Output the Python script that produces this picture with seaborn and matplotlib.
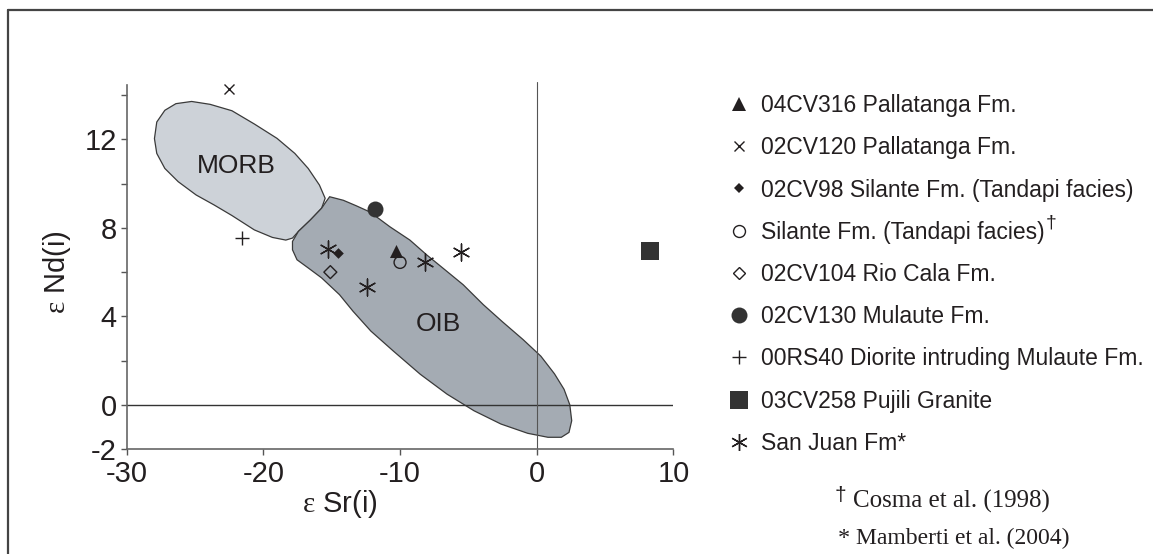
import matplotlib
matplotlib.use("Agg")
import matplotlib.pyplot as plt
import seaborn as sns
from matplotlib.patches import Polygon
from matplotlib.lines import Line2D

# datos (eps Sr(i), eps Nd(i))
sample_labels = [
    "04CV316 Pallatanga Fm.",
    "02CV120 Pallatanga Fm.",
    "02CV98 Silante Fm. (Tandapi facies)",
    "Silante Fm. (Tandapi facies)",
    "02CV104 Rio Cala Fm.",
    "02CV130 Mulaute Fm.",
    "00RS40 Diorite intruding Mulaute Fm.",
    "03CV258 Pujili Granite",
    "San Juan Fm*",
]
sample_sr = [[-10.3], [-22.5], [-14.55], [-10.0], [-15.1], [-11.8], [-21.55], [8.3],
             [-15.3, -12.4, -8.2, -5.55]]
sample_nd = [[6.95], [14.3], [6.87], [6.44], [6.0], [8.87], [7.55], [6.95],
             [7.05, 5.31, 6.44, 6.92]]

# contornos de los campos MORB y OIB
morb_sr = [-26.4, -25.25, -23.9, -22.3, -20.66, -19.0, -17.7, -16.72, -15.9, -15.48,
           -15.74, -16.56, -17.44, -17.87, -18.36, -19.34, -20.66, -22.3, -23.61,
           -24.92, -26.23, -27.21, -27.8, -27.97, -27.8, -27.21]
morb_nd = [13.62, 13.72, 13.59, 13.3, 12.7, 12.05, 11.37, 10.69, 9.94, 9.34,
           8.89, 8.36, 7.84, 7.54, 7.45, 7.57, 7.91, 8.56, 9.04,
           9.49, 10.09, 10.69, 11.37, 12.04, 12.79, 13.32]
oib_sr = [-15.15, -14.15, -13.2, -12.2, -10.74, -9.28, -8.05, -6.84, -5.38, -3.91,
          -2.5, -1.0, 0.3, 1.3, 2.0, 2.42, 2.56, 2.36, 1.8, 0.82, -0.66, -2.62,
          -4.59, -6.56, -8.52, -10.49, -12.13, -13.44, -14.43, -15.74, -16.72,
          -17.54, -17.87, -17.87, -17.44, -16.56, -15.74, -15.41]
oib_nd = [9.41, 9.25, 9.0, 8.72, 8.05, 7.45, 6.78, 6.17, 5.43, 4.53,
          3.75, 2.95, 2.2, 1.4, 0.7, 0.0, -0.72, -1.25, -1.47, -1.47, -1.29, -0.87,
          -0.27, 0.48, 1.38, 2.43, 3.33, 4.23, 4.98, 5.74, 6.19,
          6.56, 7.01, 7.39, 7.84, 8.36, 8.89, 9.19]

x_ticks = [-30, -20, -10, 0, 10]
y_ticks = [-2, 0, 2, 4, 6, 8, 10, 12, 14]
y_tick_labels = ["-2", "0", "", "4", "", "8", "", "12", ""]

ink = "#231f20"
# estilo de cada muestra: marcador, tamano (pt), relleno
estilos = [
    dict(marker="^", size=9.4, face=ink),
    dict(marker="x", size=7.2, face=None),
    dict(marker="D", size=5.4, face=ink),
    dict(marker="o", size=8.6, face="none"),
    dict(marker="D", size=6.6, face="none"),
    dict(marker="o", size=11.5, face="#333333"),
    dict(marker="+", size=10, face=None),
    dict(marker="s", size=12.8, face="#333333"),
    dict(marker=(6, 2, 0), size=12.2, face=None),
]

sns.set_style("ticks")
plt.rcParams["font.family"] = ["Liberation Sans", "DejaVu Sans"]
plt.rcParams["mathtext.fontset"] = "custom"
plt.rcParams["mathtext.rm"] = "Liberation Serif"
plt.rcParams["mathtext.it"] = "Liberation Serif:italic"

W, H = 1153, 554
fig = plt.figure(figsize=(W / 100, H / 100), dpi=100)
ax = fig.add_axes([126.7 / W, 1 - 449 / H, 546.7 / W, 367 / H])

ax.add_patch(Polygon(list(zip(morb_sr, morb_nd)), closed=True, facecolor="#cdd2d8",
                     edgecolor="#3a3a3a", linewidth=0.9, zorder=1))
ax.add_patch(Polygon(list(zip(oib_sr, oib_nd)), closed=True, facecolor="#a4abb3",
                     edgecolor="#3a3a3a", linewidth=0.9, zorder=1.1))
ax.axhline(0, color="#333333", linewidth=1.0, zorder=2)
ax.axvline(0, color="#555555", linewidth=0.8, zorder=2)

handles = []
for lab, xs, ys, st in zip(sample_labels, sample_sr, sample_nd, estilos):
    kws = dict(marker=st["marker"], s=st["size"] ** 2, color=ink, zorder=3)
    if st["face"] is None:
        kws["linewidth"] = 1.0
    else:
        kws["facecolor"] = st["face"]
        kws["edgecolor"] = ink if st["face"] == "none" else st["face"]
        kws["linewidth"] = 1.0 if st["face"] == "none" else 0
    sns.scatterplot(x=xs, y=ys, ax=ax, legend=False, **kws)
    if st["face"] is None:
        h = Line2D([], [], linestyle="none", marker=st["marker"], markersize=st["size"],
                   color=ink, markeredgewidth=1.0)
    else:
        h = Line2D([], [], linestyle="none", marker=st["marker"], markersize=st["size"],
                   markerfacecolor=st["face"], markeredgecolor=kws["edgecolor"],
                   markeredgewidth=kws["linewidth"])
    handles.append(h)

ax.text(-22.0, 10.8, "MORB", fontsize=19, ha="center", va="center", color=ink, zorder=4)
ax.text(-7.2, 3.66, "OIB", fontsize=19, ha="center", va="center", color=ink, zorder=4)

ax.set_xlim(-30, 10)
ax.set_ylim(-2, 14.6)
ax.set_xticks(x_ticks)
ax.set_xticklabels([str(t) for t in x_ticks])
ax.set_yticks(y_ticks)
ax.set_yticklabels(y_tick_labels)
ax.tick_params(axis="both", direction="out", length=4, width=1, color="#555555",
               labelsize=21, labelcolor=ink)
ax.tick_params(axis="x", pad=4)
ax.tick_params(axis="y", pad=3)
sns.despine(ax=ax)
for s in ["left", "bottom"]:
    ax.spines[s].set_color("#666666")
    ax.spines[s].set_linewidth(1.2)
ax.spines["left"].set_bounds(-2, 14.45)

ax.set_xlabel("$\\mathrm{ε}$ Sr(i)", fontsize=21, color=ink)
ax.xaxis.set_label_coords(0.39, -0.15)
ax.xaxis.label.set_va("center")
ax.set_ylabel("$\\mathrm{ε}$ Nd(i)", fontsize=21, color=ink)
ax.yaxis.set_label_coords(-0.127, 0.482)
ax.yaxis.label.set_va("center")

leg = fig.legend(handles, sample_labels, loc="upper left",
                 bbox_to_anchor=(728 / W, 1 - 94 / H), frameon=False, fontsize=16.5,
                 handlelength=1.0, handletextpad=0.45, labelspacing=0.84,
                 borderpad=0, borderaxespad=0, labelcolor=ink)

# cruz (†) volada tras la etiqueta de Cosma et al.
fig.canvas.draw()
bb = leg.get_texts()[3].get_window_extent()
yc = (bb.y0 + bb.y1) / 2
fig.text((bb.x1 + 1) / W, (yc + 9) / H, "\u2020", fontsize=14, color=ink,
         va="center", ha="left")

# notas al pie
fig.text(835 / W, 1 - 496 / H, "\u2020", fontsize=15, color=ink, va="center", ha="left")
fig.text(853 / W, 1 - 501 / H, "Cosma et al. (1998)", fontsize=18, color=ink,
         va="center", ha="left", family="Liberation Serif")
fig.text(838 / W, 1 - 538 / H, "*", fontsize=17.5, color=ink,
         va="center", ha="left", family="Liberation Serif")
fig.text(856 / W, 1 - 538 / H, "Mamberti et al. (2004)", fontsize=17, color=ink,
         va="center", ha="left", family="Liberation Serif")

# marco recortado (solo arriba e izquierda)
fig.add_artist(Line2D([8 / W, 1], [1 - 10 / H, 1 - 10 / H], transform=fig.transFigure,
                      color="#444444", linewidth=1.6))
fig.add_artist(Line2D([8 / W, 8 / W], [0, 1 - 10 / H], transform=fig.transFigure,
                      color="#444444", linewidth=1.6))

fig.savefig("out.png", dpi=100)
